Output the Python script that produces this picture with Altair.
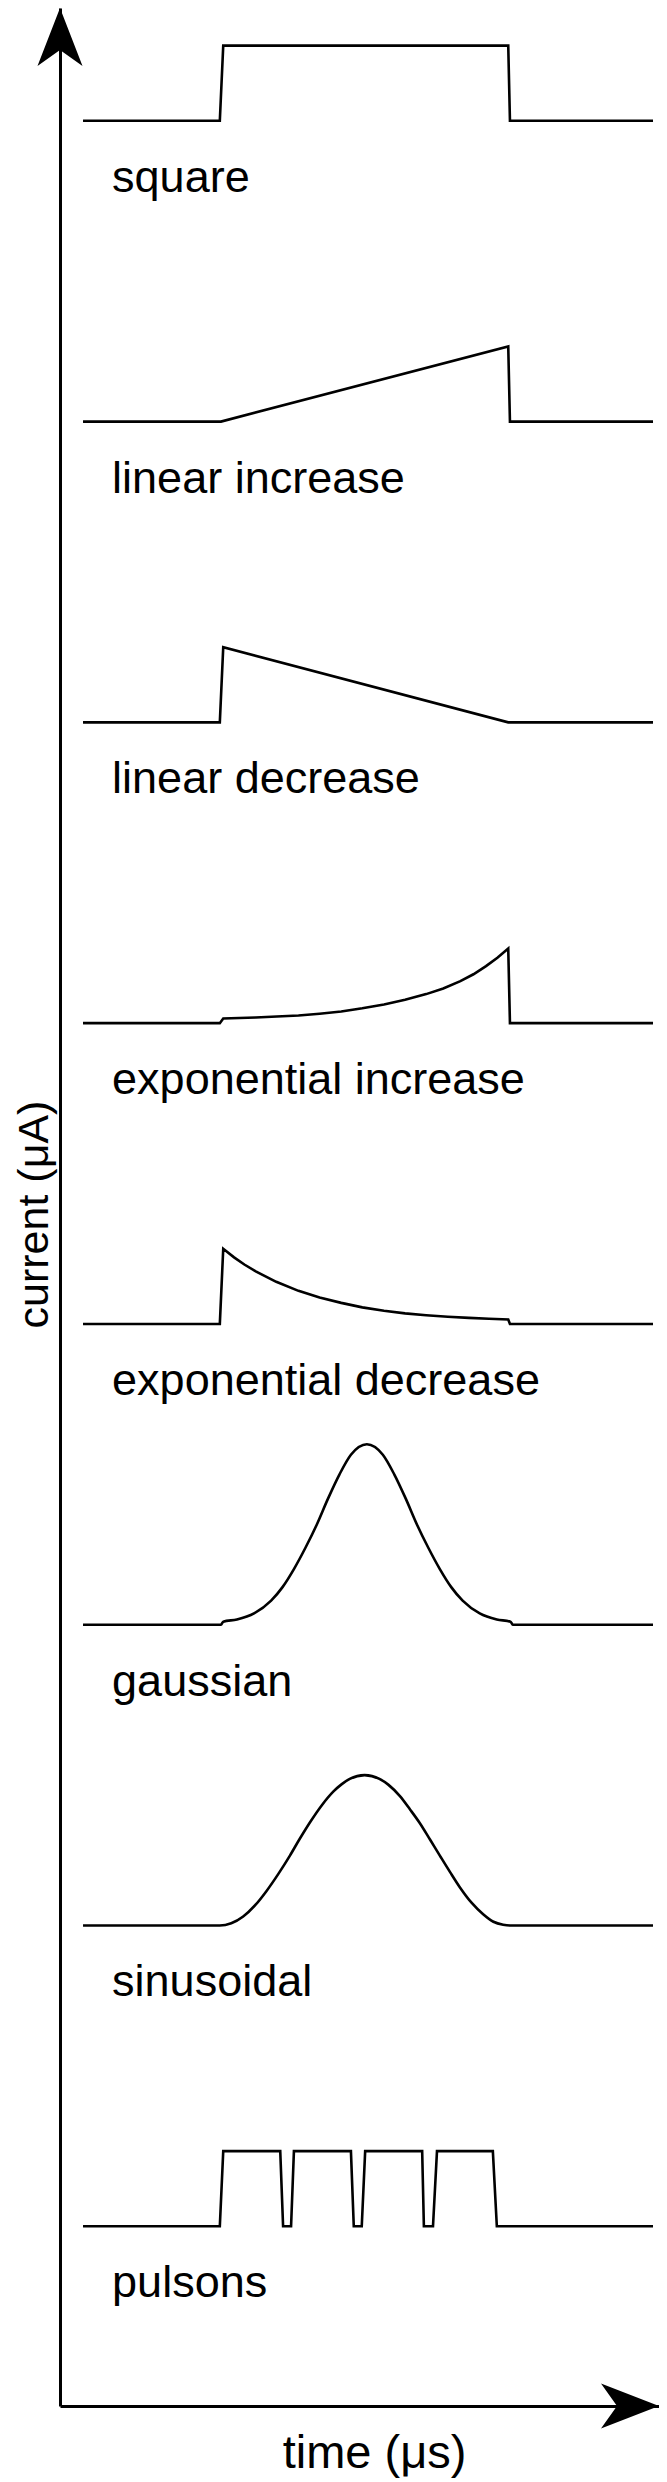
import altair as alt
import pandas as pd

# ---------------- data ----------------
names = ["square", "linear increase", "linear decrease", "exponential increase",
         "exponential decrease", "gaussian", "sinusoidal", "pulsons"]

# time (µs, arbitrary units 0..100) and current (relative units) for each waveform
square_t = [0, 24.0, 24.6, 74.6, 74.9, 100]
square_v = [0, 0, 1.0, 1.0, 0, 0]

lin_inc_t = [0, 24.2, 74.6, 74.9, 100]
lin_inc_v = [0, 0, 1.0, 0, 0]

lin_dec_t = [0, 24.0, 24.6, 74.6, 100]
lin_dec_v = [0, 0, 1.0, 0, 0]

exp_inc_t = [0, 24.0, 24.6, 30.3, 34.0, 37.8, 41.5, 45.3, 49.0, 52.8, 56.5, 60.2,
             63.2, 66.2, 68.5, 70.7, 72.7, 74.6, 74.9, 100]
exp_inc_v = [0, 0, 0.062, 0.075, 0.088, 0.102, 0.126, 0.155, 0.197, 0.248, 0.31, 0.386,
             0.46, 0.559, 0.65, 0.758, 0.87, 0.993, 0, 0]

exp_dec_t = [0, 24.0, 24.6, 26.5, 28.3, 30.3, 33.9, 37.8, 41.5, 45.3, 49.0, 52.8,
             56.5, 60.2, 64.0, 67.7, 71.2, 74.6, 74.9, 100]
exp_dec_v = [0, 0, 1.0, 0.885, 0.79, 0.70, 0.56, 0.44, 0.35, 0.28, 0.22, 0.175,
             0.14, 0.115, 0.095, 0.08, 0.068, 0.06, 0, 0]

gauss_t = [0, 24.2, 24.6, 27.0, 30.0, 33.0, 35.0, 37.0, 39.0, 41.0, 43.0, 45.0, 47.0, 49.8,
           52.6, 54.6, 56.6, 58.6, 60.6, 62.6, 64.6, 66.6, 69.6, 72.6, 75.0, 75.4, 100]
gauss_v = [0, 0, 0.04, 0.07, 0.15, 0.32, 0.50, 0.74, 1.02, 1.33, 1.68, 2.00, 2.26, 2.40,
           2.26, 2.00, 1.68, 1.33, 1.02, 0.74, 0.50, 0.32, 0.15, 0.07, 0.04, 0, 0]

sine_t = [0, 24.0, 26.0, 28.1, 30.2, 32.2, 34.3, 36.3, 38.0, 39.8, 41.9, 43.9, 45.4, 46.8, 49.4,
          52.0, 53.6, 55.6, 57.4, 59.1, 60.9, 62.6, 64.4, 66.1, 68.2, 70.2, 72.0, 73.7, 74.9, 100]
sine_v = [0, 0, 0.03, 0.12, 0.27, 0.46, 0.69, 0.93, 1.15, 1.37, 1.60, 1.78, 1.88, 1.95, 2.0,
          1.95, 1.87, 1.72, 1.54, 1.36, 1.14, 0.93, 0.71, 0.51, 0.30, 0.15, 0.05, 0.01, 0, 0]

pulse_t = [0, 24.0, 24.6, 34.6, 35.1, 36.5, 37.0, 47.0, 47.5, 48.9, 49.5, 59.5, 59.8, 61.4, 62.1, 71.9, 72.6, 100]
pulse_v = [0, 0, 1, 1, 0, 0, 1, 1, 0, 0, 1, 1, 0, 0, 1, 1, 0, 0]

series = [(square_t, square_v), (lin_inc_t, lin_inc_v), (lin_dec_t, lin_dec_v),
          (exp_inc_t, exp_inc_v), (exp_dec_t, exp_dec_v), (gauss_t, gauss_v),
          (sine_t, sine_v), (pulse_t, pulse_v)]
smooth = {"gaussian", "sinusoidal"}

PANEL_STEP = 4.0  # vertical offset between stacked waveforms (current units)

rows = []
for i, (nm, (ts, vs)) in enumerate(zip(names, series)):
    for k, (t, v) in enumerate(zip(ts, vs)):
        rows.append({"name": nm, "idx": k, "t": t, "v": v,
                     "base": PANEL_STEP * (len(names) - 1 - i),
                     "smooth": nm in smooth})
df = pd.DataFrame(rows)

labels = pd.DataFrame({"name": names,
                       "base": [PANEL_STEP * (len(names) - 1 - i) for i in range(len(names))],
                       "lt": [5.1] * len(names)})

FONT = "Liberation Sans"
FS = 45

W, H = 599, 2398

xscale = alt.Scale(domain=[-4.04, 101.05], nice=False, zero=False)
yscale = alt.Scale(domain=[-2.39, 29.5], nice=False, zero=False)

x_axis = alt.Axis(domain=True, domainColor="black", domainWidth=3, ticks=False,
                  labels=False, grid=False, title="time (μs)", titleFont=FONT,
                  titleFontSize=47, titleFontWeight="normal", titleColor="black",
                  titleX=314, titleY=61, titleAlign="center", titleBaseline="alphabetic",
                  titleAngle=0)
y_axis = alt.Axis(domain=True, domainColor="black", domainWidth=3, ticks=False,
                  labels=False, grid=False, title="current (μA)", titleFont=FONT,
                  titleFontSize=43, titleFontWeight="normal", titleColor="black",
                  titleX=-13, titleY=1206, titleAlign="center", titleBaseline="alphabetic",
                  titleAngle=270)

base = alt.Chart(df).transform_calculate(y="datum.v + datum.base")

lines_lin = base.transform_filter("!datum.smooth").mark_line(
    color="black", strokeWidth=2.6, strokeJoin="miter", interpolate="linear"
).encode(
    x=alt.X("t:Q", scale=xscale, axis=x_axis),
    y=alt.Y("y:Q", scale=yscale, axis=y_axis),
    detail="name:N",
    order="idx:Q",
)

lines_smooth = base.transform_filter("datum.smooth").mark_line(
    color="black", strokeWidth=2.6, interpolate="monotone"
).encode(
    x=alt.X("t:Q", scale=xscale, axis=x_axis),
    y=alt.Y("y:Q", scale=yscale, axis=y_axis),
    detail="name:N",
    order="idx:Q",
)

text = alt.Chart(labels).mark_text(
    font=FONT, fontSize=FS, color="black", align="left", baseline="alphabetic", dy=71
).encode(
    x=alt.X("lt:Q", scale=xscale, axis=x_axis),
    y=alt.Y("base:Q", scale=yscale, axis=y_axis),
    text="name:N",
)

arrow_up = "M0,-1L0.776,1L0,0.448L-0.776,1Z"
arrow_right = "M1,0L-1,0.776L-0.448,0L-1,-0.776Z"

up = alt.Chart(labels).transform_filter("datum.name == 'square'").mark_point(
    shape=arrow_up, filled=True, size=3364, color="black", opacity=1, strokeWidth=0
).encode(x=alt.value(0), y=alt.value(29))

right = alt.Chart(labels).transform_filter("datum.name == 'square'").mark_point(
    shape=arrow_right, filled=True, size=3364, color="black", opacity=1, strokeWidth=0
).encode(x=alt.value(W - 29), y=alt.value(H))

chart = alt.layer(lines_lin, lines_smooth, text, up, right).properties(
    width=W, height=H,
    autosize=alt.AutoSizeParams(type="none"),
    padding={"left": 52, "top": 0, "right": 0, "bottom": 76},
).configure_view(strokeWidth=0)

chart.save("out.html", embed_options={"renderer": "svg", "actions": False})
